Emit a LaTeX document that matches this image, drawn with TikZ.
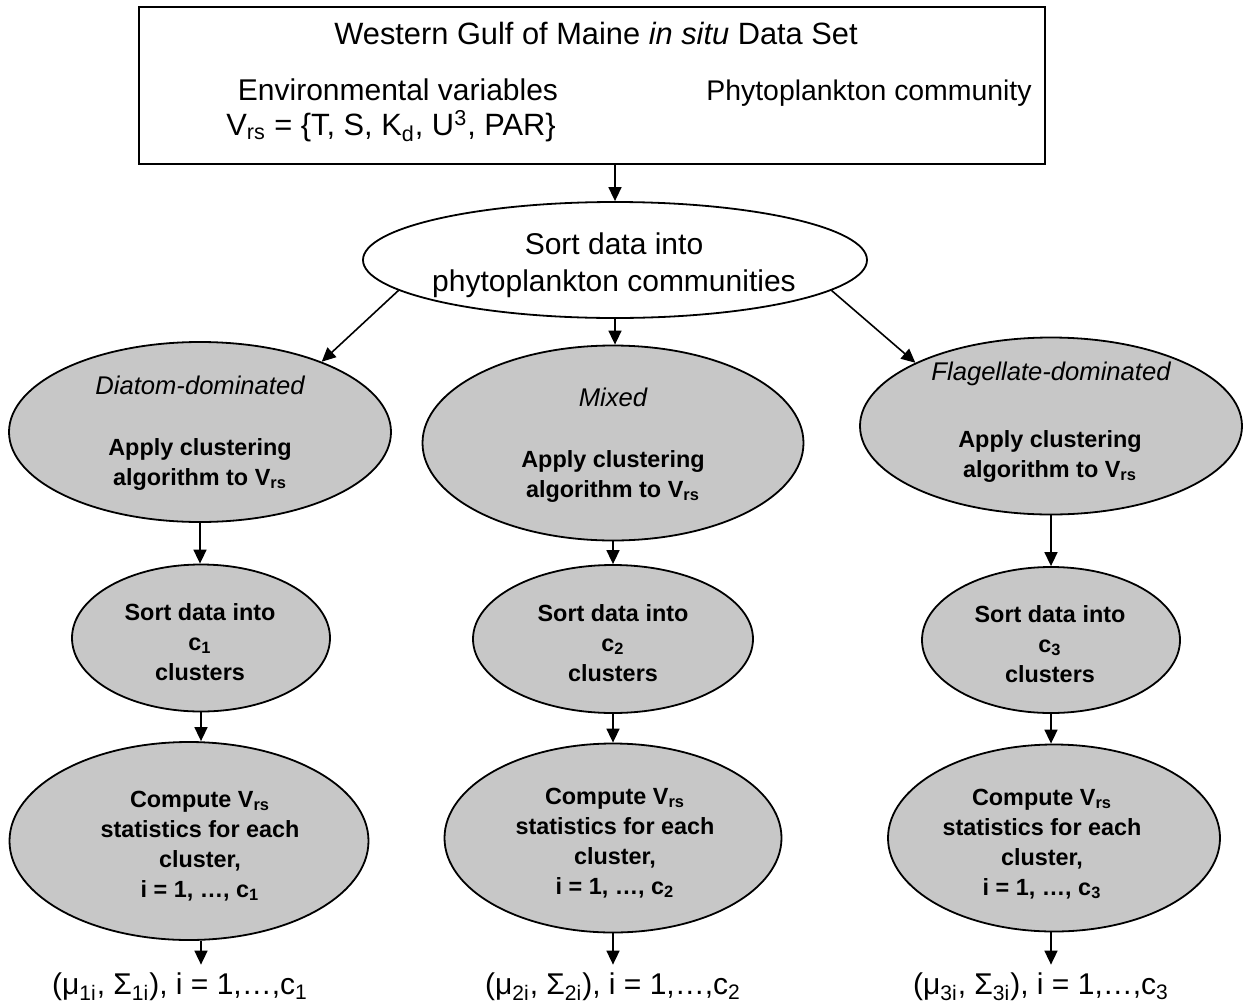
\documentclass[tikz,border=0pt]{standalone}
\usepackage{fontspec}
\setmainfont{Liberation Sans}
\usetikzlibrary{shapes.geometric,arrows.meta}
\begin{document}
\begin{tikzpicture}[x=0.5pt,y=-0.5pt,
  arr/.style={-{Triangle[length=7pt,width=6.5pt]}, line width=0.8pt},
  plainell/.style={ellipse, draw, line width=0.9pt, inner sep=0pt},
  grayell/.style={ellipse, draw, line width=0.9pt, fill=black!22, inner sep=0pt},
  big/.style={font=\fontsize{15pt}{18.5pt}\selectfont, inner sep=0pt, align=center},
  body/.style={font=\fontsize{11.7pt}{15pt}\selectfont\bfseries, align=center, inner sep=0pt},
  head/.style={font=\fontsize{12.8pt}{15pt}\selectfont\itshape, inner sep=0pt},
  outtxt/.style={font=\fontsize{15pt}{18pt}\selectfont, inner sep=4pt},
]
\useasboundingbox (0,0) rectangle (1243,1007);

% top box
\node[draw, line width=1.2pt, minimum width=453pt, minimum height=78.5pt, inner sep=0pt] (box) at (592,85.5) {};
\node[big, font=\fontsize{15.4pt}{18.5pt}\selectfont] (title) at (596,33) {Western Gulf of Maine \textit{in situ} Data Set};
\node[big, anchor=base] (env) at (398,100) {Environmental variables};
\node[big, font=\fontsize{15.4pt}{18.5pt}\selectfont] (vrs) at (391,126) {V\textsubscript{rs} = \{T, S, K\textsubscript{d}, U\textsuperscript{3}, PAR\}};
\node[big, anchor=base, font=\fontsize{14.2pt}{18.5pt}\selectfont] (phy) at (869,100) {Phytoplankton community};

% sort into communities
\node[plainell, minimum width=252pt, minimum height=58pt] (T) at (615,260) {};
\node[big] (Ttxt) at (614,265) {Sort data into\\phytoplankton communities};

% community ellipses
\node[grayell, minimum width=191pt, minimum height=90pt] (D) at (200,432) {};
\node[grayell, minimum width=190.5pt, minimum height=97.5pt] (M) at (613,443) {};
\node[grayell, minimum width=191pt, minimum height=88.5pt] (F) at (1051,426) {};
\node[head] (Dh) at (200,385) {Diatom-dominated};
\node[head] (Mh) at (613,397) {Mixed};
\node[head] (Fh) at (1051,374) {Flagellate-dominated};
\node[body] (Db) at (200,464) {Apply clustering\\algorithm to V\textsubscript{rs}};
\node[body] (Mb) at (613,476) {Apply clustering\\algorithm to V\textsubscript{rs}};
\node[body] (Fb) at (1050,456) {Apply clustering\\algorithm to V\textsubscript{rs}};

% sort into clusters
\node[grayell, minimum width=129pt, minimum height=73.5pt] (S1) at (201,638) {};
\node[grayell, minimum width=140pt, minimum height=74pt] (S2) at (613,639) {};
\node[grayell, minimum width=129pt, minimum height=73pt] (S3) at (1051,640) {};
\node[body] (S1t) at (200,642) {Sort data into\\c\textsubscript{1}\\clusters};
\node[body] (S2t) at (613,643) {Sort data into\\c\textsubscript{2}\\clusters};
\node[body] (S3t) at (1050,644) {Sort data into\\c\textsubscript{3}\\clusters};

% compute statistics
\node[grayell, minimum width=179.5pt, minimum height=99pt] (C1) at (189,841) {};
\node[grayell, minimum width=168.5pt, minimum height=94.5pt] (C2) at (613,838) {};
\node[grayell, minimum width=166pt, minimum height=93.5pt] (C3) at (1054,838) {};
\node[body] (C1t) at (200,846) {Compute V\textsubscript{rs}\\statistics for each\\cluster,\\i = 1, …, c\textsubscript{1}};
\node[body] (C2t) at (615,843) {Compute V\textsubscript{rs}\\statistics for each\\cluster,\\i = 1, …, c\textsubscript{2}};
\node[body] (C3t) at (1042,844) {Compute V\textsubscript{rs}\\statistics for each\\cluster,\\i = 1, …, c\textsubscript{3}};

% outputs
\node[outtxt] (B1) at (180,987) {(μ\textsubscript{1i}, Σ\textsubscript{1i}), i = 1,…,c\textsubscript{1}};
\node[outtxt] (B2) at (613,987) {(μ\textsubscript{2i}, Σ\textsubscript{2i}), i = 1,…,c\textsubscript{2}};
\node[outtxt] (B3) at (1041,987) {(μ\textsubscript{3i}, Σ\textsubscript{3i}), i = 1,…,c\textsubscript{3}};

% connectors
\draw[arr] (T.north |- box.south) -- (T.north);
\draw[arr] (T.188) -- (D.30);
\draw[arr] (T.south) -- (T.south |- M.north);
\draw[arr] (T.352) -- (F.155);

\draw[arr] (D.south) -- (D.south |- S1.north);
\draw[arr] (M.south) -- (M.south |- S2.north);
\draw[arr] (F.south) -- (F.south |- S3.north);

\draw[arr] (S1.south) -- (S1.south |- C1.north);
\draw[arr] (S2.south) -- (S2.south |- C2.north);
\draw[arr] (S3.south) -- (S3.south |- C3.north);

\draw[arr] (S1.south |- C1.south) -- (S1.south |- B1.north);
\draw[arr] (S2.south |- C2.south) -- (S2.south |- B2.north);
\draw[arr] (S3.south |- C3.south) -- (S3.south |- B3.north);
\end{tikzpicture}
\end{document}
